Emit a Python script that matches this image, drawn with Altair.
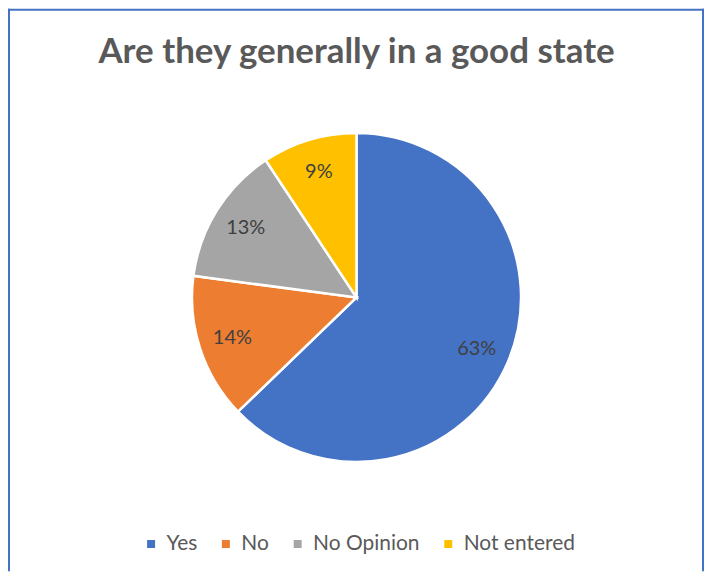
import altair as alt
import pandas as pd

categories = ["Yes", "No", "No Opinion", "Not entered"]
values = [62.8, 14.3, 13.6, 9.3]
labels = ["63%", "14%", "13%", "9%"]
colors = ["#4472C4", "#ED7D31", "#A5A5A5", "#FFC000"]
title_text = "Are they generally in a good state"

df = pd.DataFrame({"cat": categories, "val": values, "lab": labels, "idx": list(range(len(categories)))})

W, H = 698, 564
CX, CY, R = 349.5, 289.5, 165

base = alt.Chart(df)

pie = base.mark_arc(radius=R, stroke="white", strokeWidth=2.5).encode(
    theta=alt.Theta("val:Q", stack=True),
    order=alt.Order("idx:Q"),
    color=alt.Color("cat:N", scale=alt.Scale(domain=categories, range=colors),
                    legend=alt.Legend(title=None, orient="none", direction="horizontal",
                                      legendX=133, legendY=526, symbolType="square",
                                      symbolSize=64, symbolStrokeWidth=0,
                                      labelFont="Lato", labelFontSize=21, labelColor="#595959",
                                      columnPadding=18, labelOffset=5)),
    x=alt.value(CX), y=alt.value(CY),
)

txt = base.mark_text(radius=131, font="Lato", fontSize=20, color="#404040",
                     align="center", baseline="middle").encode(
    theta=alt.Theta("val:Q", stack=True),
    order=alt.Order("idx:Q"),
    text="lab:N",
    x=alt.value(CX), y=alt.value(CY),
)

title = alt.Chart(pd.DataFrame({"t": [title_text]})).mark_text(
    font="Lato", fontSize=35, fontWeight="bold", color="#595959",
    align="center", baseline="alphabetic").encode(
    text="t:N", x=alt.value(CX), y=alt.value(54))

bdf = pd.DataFrame({"k": [0]})
border_left = alt.Chart(bdf).mark_rule(color="#4472C4", strokeWidth=2).encode(
    x=alt.value(1), y=alt.value(0), y2=alt.value(H))
border_right = alt.Chart(bdf).mark_rule(color="#4472C4", strokeWidth=2).encode(
    x=alt.value(W - 1), y=alt.value(0), y2=alt.value(H))
border_top = alt.Chart(bdf).mark_rule(color="#4472C4", strokeWidth=2).encode(
    x=alt.value(0), x2=alt.value(W), y=alt.value(1))

chart = alt.layer(pie, txt, title, border_left, border_right, border_top).properties(
    width=W, height=H, padding=0, autosize=alt.AutoSizeParams(type="none"),
    background="white"
).configure_view(stroke=None)

chart.save("out.html", embed_options={"renderer": "svg", "actions": False})
